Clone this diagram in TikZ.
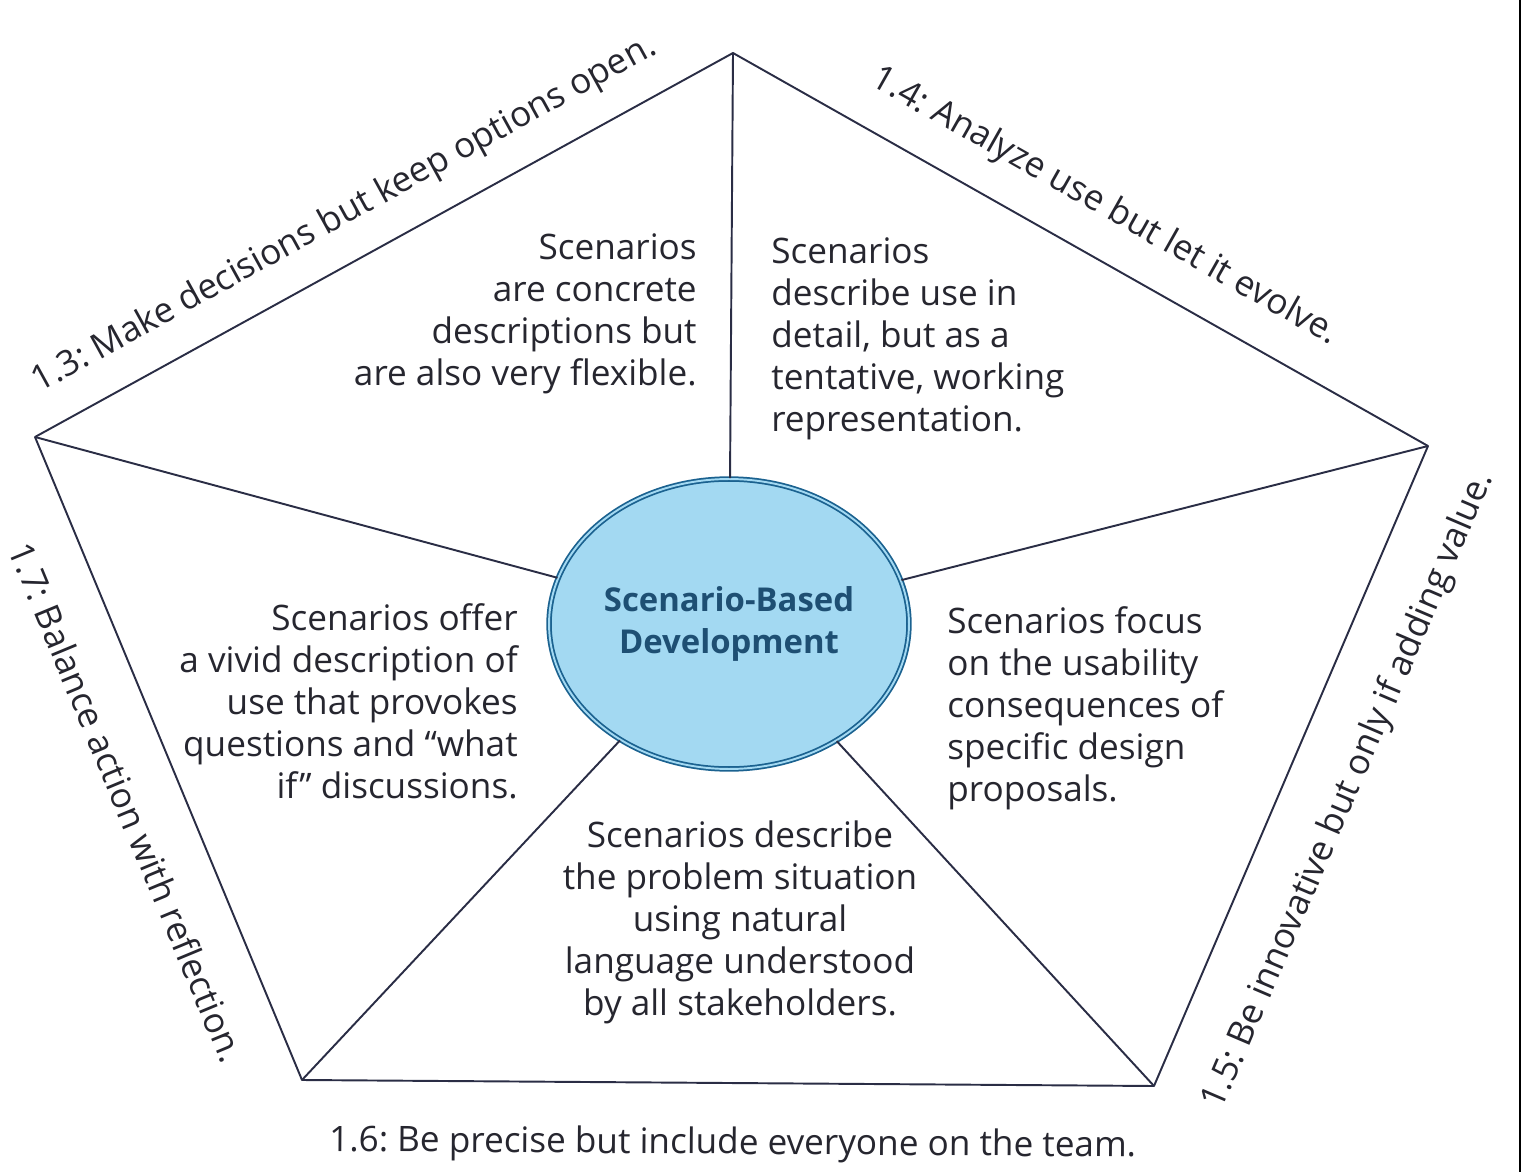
\documentclass[tikz,border=0pt]{standalone}
\usepackage{fontspec}
\setmainfont{Open Sans}
\frenchspacing
\usetikzlibrary{shapes.geometric,positioning,calc}
\definecolor{sbdink}{HTML}{26262F}
\definecolor{sbdline}{HTML}{2A2D45}
\definecolor{sbdsky}{HTML}{A3D9F2}
\definecolor{sbdrim}{HTML}{1B6290}
\definecolor{sbdtitle}{HTML}{1E4F73}

\begin{document}
\begin{tikzpicture}[
    x=0.02cm, y=-0.02cm,
    edge/.style={line width=1.1pt, draw=sbdline, line join=round},
    hub/.style={ellipse, fill=sbdsky, draw=sbdrim, double=sbdsky, double distance=1.1pt, line width=1pt, minimum width=7.2cm, minimum height=5.8cm, inner sep=0pt, align=center, font=\fontsize{18.7}{23.9}\selectfont\bfseries\color{sbdtitle}},
    blurb/.style={font=\fontsize{20}{23.9}\selectfont\color{sbdink}, inner sep=0pt},
    rule/.style={font=\fontsize{20}{22}\selectfont\color{sbdink}, inner sep=0pt, sloped}
]
    \useasboundingbox (0,0) rectangle (1522,1172);

    % Pentagon corners
    \coordinate (pT) at (733,53);
    \coordinate (pR) at (1428,446);
    \coordinate (pBR) at (1154,1086);
    \coordinate (pBL) at (302,1080);
    \coordinate (pL) at (35,437);

    % Centre
    \node (hub) [hub] at (729,624) {Scenario-Based\\Development};

    % Pentagon and spokes
    \draw [edge] (pL) -- (pT) -- (pR) -- (pBR) -- (pBL) -- cycle;
    \foreach \corner in {pT,pR,pBR,pBL,pL}
        \draw [edge] (\corner) -- (hub);

    % Edge labels
    \path (pL) -- (pT) node (lab13) [rule, pos=0.475, above=0.55cm] {1.3: Make decisions but keep options open.};
    \path (pT) -- (pR) node (lab14) [rule, pos=0.5, above=0.62cm] {1.4: Analyze use but let it evolve.};
    \path (pBR) -- (pR) node (lab15) [rule, pos=0.5, below=0.9cm] {1.5: Be innovative but only if adding value.};
    \path (pBL) -- (pBR) node (lab16) [rule, pos=0.506, below=0.88cm] {1.6: Be precise but include everyone on the team.};
    \path (pL) -- (pBL) node (lab17) [rule, pos=0.535, below=0.82cm] {1.7: Balance action with reflection.};

    % Sector texts
    \node (concrete) [blurb, anchor=east, align=right] at (697,314) {Scenarios\\are concrete\\descriptions but\\are also very flexible.};
    \node (detail) [blurb, anchor=west, align=left] at (771,339) {Scenarios\\describe use in\\detail, but as a\\tentative, working\\representation.};
    \node (vivid) [blurb, anchor=east, align=right] at (518,701) {Scenarios offer\\a vivid description of\\use that provokes\\questions and “what\\if” discussions.};
    \node (usability) [blurb, anchor=west, align=left] at (947,708) {Scenarios focus\\on the usability\\consequences of\\specific design\\proposals.};
    \node (natural) [blurb, align=center] at (740,922) {Scenarios describe\\the problem situation\\using natural\\language understood\\by all stakeholders.};

    % Scan edge
    \draw [line width=1.4pt, black] (1520,0) -- (1520,1172);
\end{tikzpicture}
\end{document}
